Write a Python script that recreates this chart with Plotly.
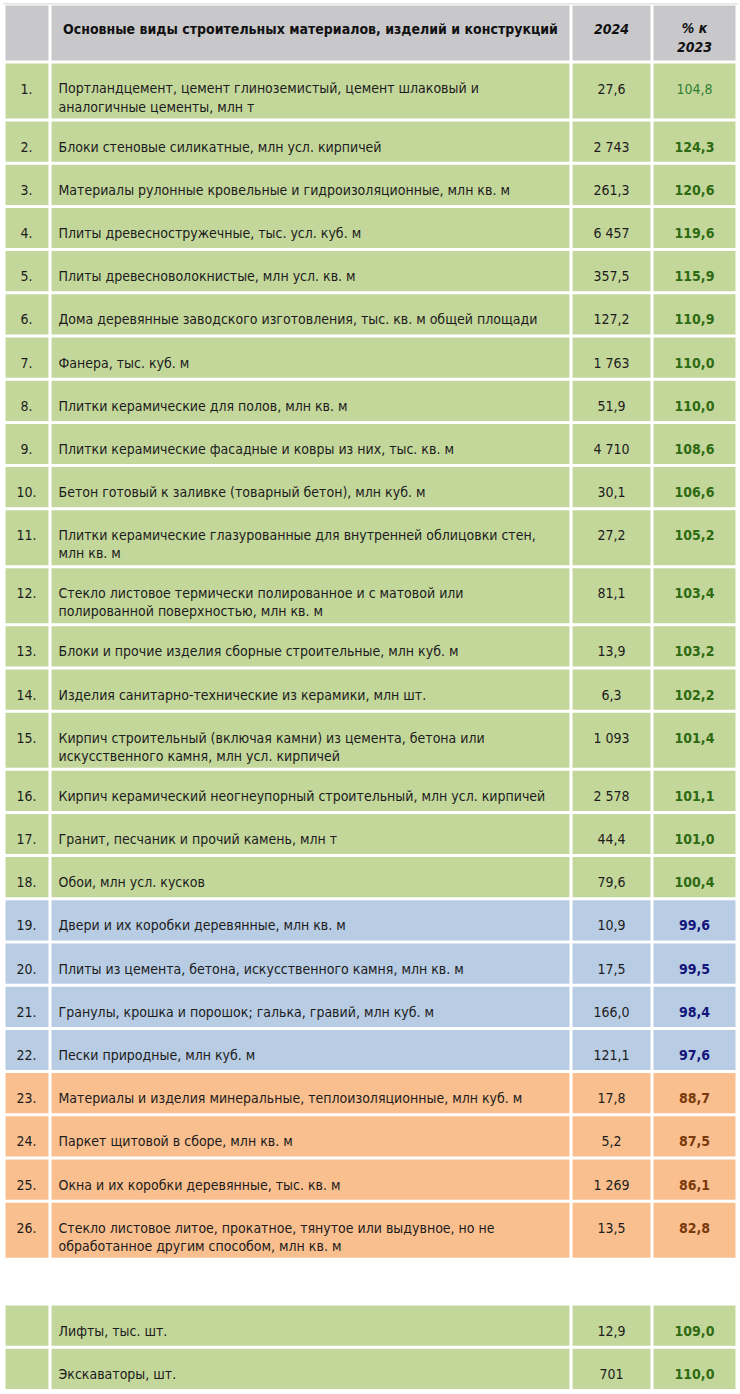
import plotly.graph_objects as go

# ---------------- data ----------------
header = ["", "Основные виды строительных материалов, изделий и конструкций", "2024", "% к<br>2023"]

row_nums = [f"{i}." for i in range(1, 27)]
names = [
    "Портландцемент, цемент глиноземистый, цемент шлаковый и<br>аналогичные цементы, млн т",
    "Блоки стеновые силикатные, млн усл. кирпичей",
    "Материалы рулонные кровельные и гидроизоляционные, млн кв. м",
    "Плиты древесностружечные, тыс. усл. куб. м",
    "Плиты древесноволокнистые, млн усл. кв. м",
    "Дома деревянные заводского изготовления, тыс. кв. м общей площади",
    "Фанера, тыс. куб. м",
    "Плитки керамические для полов, млн кв. м",
    "Плитки керамические фасадные и ковры из них, тыс. кв. м",
    "Бетон готовый к заливке (товарный бетон), млн куб. м",
    "Плитки керамические глазурованные для внутренней облицовки стен,<br>млн кв. м",
    "Стекло листовое термически полированное и с матовой или<br>полированной поверхностью, млн кв. м",
    "Блоки и прочие изделия сборные строительные, млн куб. м",
    "Изделия санитарно-технические из керамики, млн шт.",
    "Кирпич строительный (включая камни) из цемента, бетона или<br>искусственного камня, млн усл. кирпичей",
    "Кирпич керамический неогнеупорный строительный, млн усл. кирпичей",
    "Гранит, песчаник и прочий камень, млн т",
    "Обои, млн усл. кусков",
    "Двери и их коробки деревянные, млн кв. м",
    "Плиты из цемента, бетона, искусственного камня, млн кв. м",
    "Гранулы, крошка и порошок; галька, гравий, млн куб. м",
    "Пески природные, млн куб. м",
    "Материалы и изделия минеральные, теплоизоляционные, млн куб. м",
    "Паркет щитовой в сборе, млн кв. м",
    "Окна и их коробки деревянные, тыс. кв. м",
    "Стекло листовое литое, прокатное, тянутое или выдувное, но не<br>обработанное другим способом, млн кв. м",
]
v2024 = [27.6, 2743, 261.3, 6457, 357.5, 127.2, 1763, 51.9, 4710, 30.1,
         27.2, 81.1, 13.9, 6.3, 1093, 2578, 44.4, 79.6, 10.9, 17.5,
         166.0, 121.1, 17.8, 5.2, 1269, 13.5]
pct2023 = [104.8, 124.3, 120.6, 119.6, 115.9, 110.9, 110.0, 110.0, 108.6, 106.6,
           105.2, 103.4, 103.2, 102.2, 101.4, 101.1, 101.0, 100.4, 99.6, 99.5,
           98.4, 97.6, 88.7, 87.5, 86.1, 82.8]

extra_names = ["Лифты, тыс. шт.", "Экскаваторы, шт."]
extra_2024 = [12.9, 701]
extra_pct = [109.0, 110.0]

# ---------------- styles / geometry ----------------
W, H = 740, 1394
COL_EDGES = [4, 50, 571, 652, 737]
GAP = 1.5
HEADER_TOP, HEADER_BOT = 4, 62
ROW_H = 43.2
EXTRA_LINE_H = 14.8
LINE_H = 18.2
FIRST_LINE = 28
HEADER_FIRST_LINE = 26
EXTRA_TABLE_TOP = 1304
FONT = "DejaVu Sans Condensed, Liberation Sans Narrow, DejaVu Sans, sans-serif"
FS = 14

GREEN, BLUE, ORANGE, GRAY = "#C4D79B", "#B8CCE4", "#FABF8F", "#C8C8CB"
TXT = "#1c1c1c"


def ru(v):
    if isinstance(v, int):
        return f"{v:,}".replace(",", " ")
    return f"{v:.1f}".replace(".", ",")


def style_for(p):
    if p >= 100:
        return GREEN, "#2E6A12"
    if p >= 95:
        return BLUE, "#14147A"
    return ORANGE, "#7A3A0C"


fig = go.Figure()
shapes = []
texts = {"x": [], "y": [], "text": [], "pos": [], "color": []}


def add_text(x, y_top, s, pos, color, first=FIRST_LINE):
    n = s.count("<br>") + 1
    texts["x"].append(x)
    texts["y"].append(y_top + first + (n - 1) * LINE_H / 2)
    texts["text"].append(s)
    texts["pos"].append(pos)
    texts["color"].append(color)


def add_cells(top, bot, fill):
    for c in range(4):
        shapes.append(dict(type="rect", xref="x", yref="y", layer="below",
                           x0=COL_EDGES[c] + GAP, x1=COL_EDGES[c + 1] - GAP,
                           y0=top + GAP, y1=bot - GAP,
                           fillcolor=fill, line=dict(width=0)))


def add_row(top, num, name, val, pct, bold_pct=True):
    n = name.count("<br>") + 1
    h = ROW_H + (n - 1) * EXTRA_LINE_H
    fill, pcol = style_for(pct)
    add_cells(top, top + h, fill)
    cx = [(COL_EDGES[i] + COL_EDGES[i + 1]) / 2 for i in range(4)]
    if num:
        add_text(cx[0] - 0.5, top, num, "middle center", TXT)
    add_text(COL_EDGES[1] + 8.5, top, name, "middle right", TXT)
    add_text(cx[2], top, ru(val), "middle center", TXT)
    ptxt = ru(pct)
    add_text(cx[3], top, f"<b>{ptxt}</b>" if bold_pct else ptxt, "middle center",
             pcol if bold_pct else "#2F8030")
    return top + h


# outer light border
shapes.append(dict(type="rect", xref="x", yref="y", layer="below",
                   x0=COL_EDGES[0] - 1, x1=COL_EDGES[-1] + 1, y0=HEADER_TOP - 1, y1=HEADER_TOP + 0.5,
                   fillcolor="#E4E4E4", line=dict(width=0)))

# header
add_cells(HEADER_TOP, HEADER_BOT, GRAY)
cx = [(COL_EDGES[i] + COL_EDGES[i + 1]) / 2 for i in range(4)]
add_text(cx[1], HEADER_TOP, f"<b>{header[1]}</b>", "middle center", "#111111", HEADER_FIRST_LINE)
add_text(cx[2], HEADER_TOP, f"<b><i>{header[2]}</i></b>", "middle center", "#111111", HEADER_FIRST_LINE)
add_text(cx[3], HEADER_TOP, f"<b><i>{header[3]}</i></b>", "middle center", "#111111", HEADER_FIRST_LINE)

top = HEADER_BOT
for i in range(len(names)):
    top = add_row(top, row_nums[i], names[i], v2024[i], pct2023[i], bold_pct=(i != 0))

top = EXTRA_TABLE_TOP
for i in range(len(extra_names)):
    top = add_row(top, "", extra_names[i], extra_2024[i], extra_pct[i])

fig.add_trace(go.Scatter(
    x=texts["x"], y=texts["y"], text=texts["text"], mode="text",
    textposition=texts["pos"],
    textfont=dict(family=FONT, size=FS, color=texts["color"]),
    hoverinfo="skip", showlegend=False,
))

fig.update_layout(
    width=W, height=H, margin=dict(l=0, r=0, t=0, b=0),
    paper_bgcolor="white", plot_bgcolor="white",
    shapes=shapes,
    xaxis=dict(range=[0, W], visible=False, fixedrange=True),
    yaxis=dict(range=[H, 0], visible=False, fixedrange=True),
    showlegend=False,
)

fig.write_html("out.html", post_script="document.body.style.margin='0';",
               config={"displayModeBar": False})
